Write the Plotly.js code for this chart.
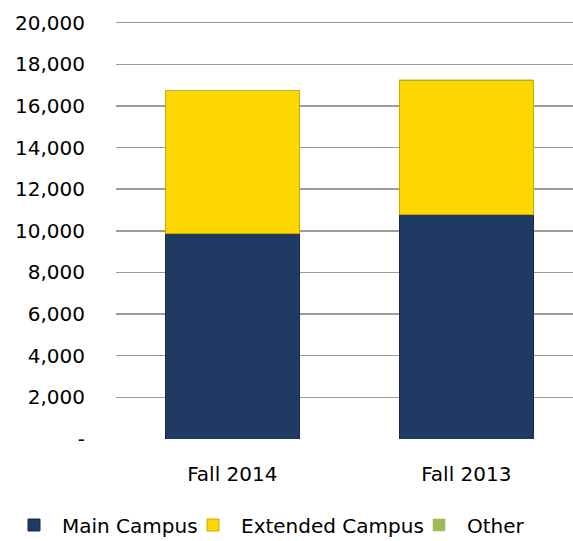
<!DOCTYPE html>
<html>
<head>
<meta charset="utf-8">
<script src="https://cdn.plot.ly/plotly-3.0.1.min.js"></script>
<style>html,body{margin:0;padding:0;background:#fff;}#chart{width:573px;height:541px;}</style>
</head>
<body>
<div id="chart"></div>
<script>
var categories = ["Fall 2014", "Fall 2013"];
var mainCampus = [9860, 10800];
var extendedCampus = [6860, 6440];
var other = [20, 20];
var yTickVals = [0, 2000, 4000, 6000, 8000, 10000, 12000, 14000, 16000, 18000, 20000];
var yTickText = ["-", "2,000", "4,000", "6,000", "8,000", "10,000", "12,000", "14,000", "16,000", "18,000", "20,000"];

var font = {family: "DejaVu Sans", size: 20, color: "#000"};

var traces = [
  {type: "bar", name: "Main Campus", x: categories, y: mainCampus, width: 0.573, legend: "legend",
   marker: {color: "#1F3A63", line: {color: "#17294a", width: 1}}},
  {type: "bar", name: "Extended Campus", x: categories, y: extendedCampus, width: 0.573, legend: "legend2",
   marker: {color: "#FED700", line: {color: "#c9aa00", width: 1}}},
  {type: "bar", name: "Other", x: categories, y: other, width: 0.573, legend: "legend3",
   marker: {color: "#9BBB59", line: {color: "#9BBB59", width: 0.5}}}
];

function legendAt(px) {
  return {orientation: "h", xref: "container", yref: "container", x: px / 573, y: 1 - 525 / 541,
          xanchor: "left", yanchor: "middle", itemwidth: 46, font: font,
          bgcolor: "rgba(0,0,0,0)", borderwidth: 0};
}

var layout = {
  width: 573, height: 541,
  margin: {l: 116, r: 0, t: 23, b: 102},
  barmode: "stack",
  paper_bgcolor: "#fff", plot_bgcolor: "#fff",
  font: font,
  showlegend: true,
  xaxis: {type: "category", range: [-0.497, 1.456], showgrid: false, zeroline: false,
          showline: false, ticks: "", tickfont: font, ticklabelstandoff: 21},
  yaxis: {range: [0, 20000], tickvals: yTickVals, ticktext: yTickText, showgrid: true,
          gridcolor: "#9c9c9c", gridwidth: 1.5, zeroline: false, showline: false,
          ticks: "", tickfont: font, ticklabelstandoff: 30},
  legend: legendAt(6),
  legend2: legendAt(185),
  legend3: legendAt(411)
};

// top gridline at the range edge (Plotly skips a grid line lying on the plot edge)
layout.yaxis.range = [0, 20000 * 1.004];
layout.margin.t = 23 - Math.round(416 * 0.004 / 1.004);

Plotly.newPlot("chart", traces, layout, {displayModeBar: false, staticPlot: true});
</script>
</body>
</html>
